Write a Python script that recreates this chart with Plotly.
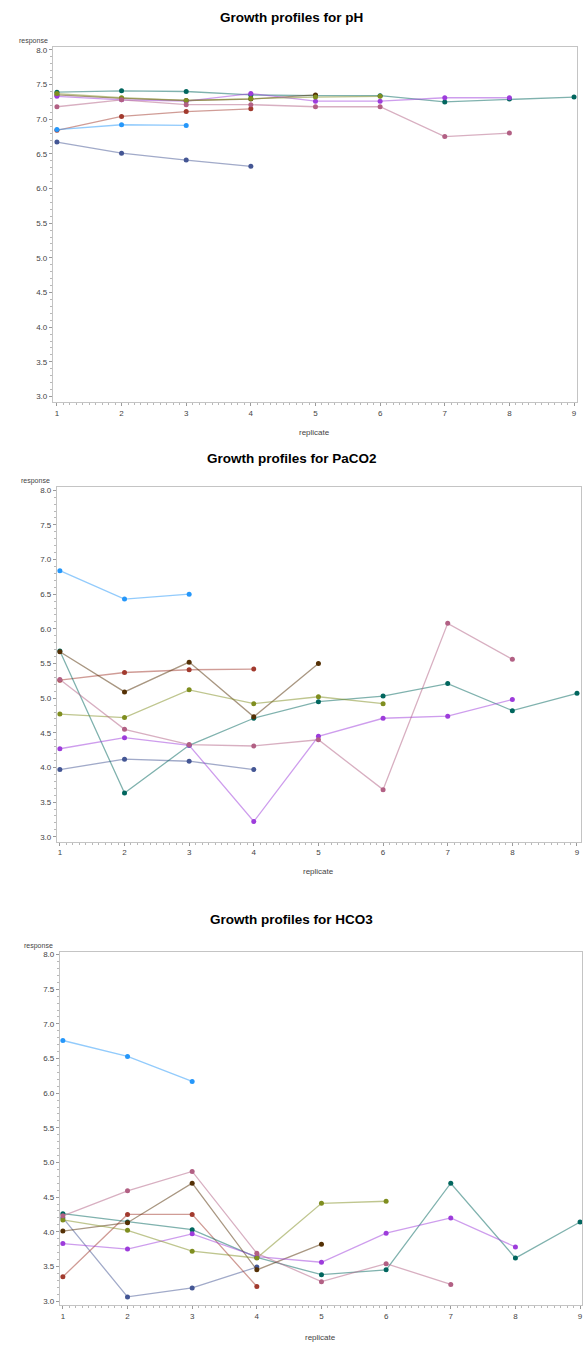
import plotly.graph_objects as go

# ---------------- data ----------------
panel_titles = ["Growth profiles for pH", "Growth profiles for PaCO2", "Growth profiles for HCO3"]
y_ticks = [3.0, 3.5, 4.0, 4.5, 5.0, 5.5, 6.0, 6.5, 7.0, 7.5, 8.0]
x_ticks = [1, 2, 3, 4, 5, 6, 7, 8, 9]

subject_colors = ["#445694", "#A23A2E", "#01665E", "#543005",
                  "#9D3CDB", "#7F8E1F", "#2597FA", "#B26084"]

ph_s1 = [6.67, 6.51, 6.41, 6.32]
ph_s2 = [6.84, 7.04, 7.11, 7.15]
ph_s3 = [7.39, 7.41, 7.40, 7.35, 7.34, 7.34, 7.25, 7.29, 7.32]
ph_s4 = [7.35, 7.30, 7.27, 7.29, 7.35]
ph_s5 = [7.33, 7.28, 7.26, 7.37, 7.26, 7.26, 7.31, 7.31]
ph_s6 = [7.37, 7.31, 7.27, 7.30, 7.32, 7.33]
ph_s7 = [6.85, 6.92, 6.91]
ph_s8 = [7.18, 7.28, 7.21, 7.21, 7.18, 7.18, 6.75, 6.80]

paco2_s1 = [3.97, 4.12, 4.09, 3.97]
paco2_s2 = [5.26, 5.37, 5.41, 5.42]
paco2_s3 = [5.68, 3.63, 4.32, 4.71, 4.95, 5.03, 5.21, 4.82, 5.07]
paco2_s4 = [5.67, 5.09, 5.52, 4.73, 5.50]
paco2_s5 = [4.27, 4.43, 4.32, 3.22, 4.45, 4.71, 4.74, 4.98]
paco2_s6 = [4.77, 4.72, 5.12, 4.92, 5.02, 4.92]
paco2_s7 = [6.84, 6.43, 6.50]
paco2_s8 = [5.27, 4.55, 4.33, 4.31, 4.40, 3.68, 6.08, 5.56]

hco3_s1 = [4.20, 3.06, 3.19, 3.49]
hco3_s2 = [3.35, 4.25, 4.25, 3.21]
hco3_s3 = [4.26, 4.14, 4.03, 3.63, 3.38, 3.45, 4.70, 3.62, 4.14]
hco3_s4 = [4.01, 4.13, 4.70, 3.45, 3.82]
hco3_s5 = [3.83, 3.75, 3.97, 3.64, 3.56, 3.98, 4.20, 3.78]
hco3_s6 = [4.17, 4.02, 3.72, 3.62, 4.41, 4.44]
hco3_s7 = [6.76, 6.53, 6.17]
hco3_s8 = [4.23, 4.59, 4.87, 3.69, 3.28, 3.54, 3.24]

panels = [
    [ph_s1, ph_s2, ph_s3, ph_s4, ph_s5, ph_s6, ph_s7, ph_s8],
    [paco2_s1, paco2_s2, paco2_s3, paco2_s4, paco2_s5, paco2_s6, paco2_s7, paco2_s8],
    [hco3_s1, hco3_s2, hco3_s3, hco3_s4, hco3_s5, hco3_s6, hco3_s7, hco3_s8],
]

# ---------------- layout geometry (pixels) ----------------
W, H = 584, 1346
# (left, right, top, bottom) frame in pixels; x-range; y-range
frames = [
    (53, 578, 46, 402, [0.938, 9.046], [2.914, 8.043]),
    (57, 582, 487, 842, [0.954, 9.062], [2.928, 8.043]),
    (60, 583, 952, 1306, [0.954, 9.03], [2.942, 8.043]),
]
title_y = [17, 458, 920]
resp_pos = [(50, 40), (52, 481), (55, 946)]
repl_y = [432, 872, 1338]


def hex_rgba(h, a):
    h = h.lstrip("#")
    return "rgba(%d,%d,%d,%.2f)" % (int(h[0:2], 16), int(h[2:4], 16), int(h[4:6], 16), a)


fig = go.Figure()
FONT = "Liberation Sans, Arial, sans-serif"
axis_common = dict(
    showline=True, linecolor="#c4c4c4", linewidth=1, mirror=True,
    showgrid=False, zeroline=False,
    ticks="outside", ticklen=3, tickcolor="#9a9a9a", tickwidth=1,
    tickfont=dict(family=FONT, size=8, color="#444444"),
    minor=dict(dtick=0.1, ticks="outside", ticklen=2, tickcolor="#b8b8b8", tickwidth=1),
)

annotations = []
for i, (series_list, fr) in enumerate(zip(panels, frames)):
    l, r, t, b, xr, yr = fr
    sfx = "" if i == 0 else str(i + 1)
    for vals, col in zip(series_list, subject_colors):
        xs = x_ticks[:len(vals)]
        fig.add_trace(go.Scatter(
            x=xs, y=vals, mode="lines+markers",
            line=dict(color=hex_rgba(col, 0.5), width=1.3),
            marker=dict(color=col, size=5, symbol="circle"),
            xaxis="x" + sfx, yaxis="y" + sfx, showlegend=False,
            hoverinfo="x+y", cliponaxis=False,
        ))
    fig.layout["xaxis" + sfx] = dict(
        domain=[l / W, r / W], range=xr, anchor="y" + sfx,
        tickvals=x_ticks, ticktext=[str(v) for v in x_ticks], **axis_common)
    fig.layout["yaxis" + sfx] = dict(
        domain=[1 - b / H, 1 - t / H], range=yr, anchor="x" + sfx,
        tickvals=y_ticks, ticktext=["%.1f" % v for v in y_ticks], **axis_common)

    annotations.append(dict(
        text="<b>" + panel_titles[i] + "</b>", x=292 / W, y=1 - title_y[i] / H,
        xref="paper", yref="paper", showarrow=False, xanchor="center", yanchor="middle",
        font=dict(family=FONT, size=13.5, color="#000000")))
    rx, ry = resp_pos[i]
    annotations.append(dict(
        text="response", x=rx / W, y=1 - ry / H, xref="paper", yref="paper",
        showarrow=False, xanchor="right", yanchor="middle",
        font=dict(family=FONT, size=7, color="#444444")))
    annotations.append(dict(
        text="replicate", x=((l + r) / 2) / W, y=1 - repl_y[i] / H, xref="paper", yref="paper",
        showarrow=False, xanchor="center", yanchor="middle",
        font=dict(family=FONT, size=8, color="#444444")))

fig.update_layout(
    width=W, height=H,
    margin=dict(l=0, r=0, t=0, b=0),
    paper_bgcolor="white", plot_bgcolor="white",
    annotations=annotations,
    showlegend=False,
)

fig.write_html(
    "out.html",
    config={"displayModeBar": False},
    post_script="document.body.style.margin='0px';document.body.style.overflow='hidden';",
)
